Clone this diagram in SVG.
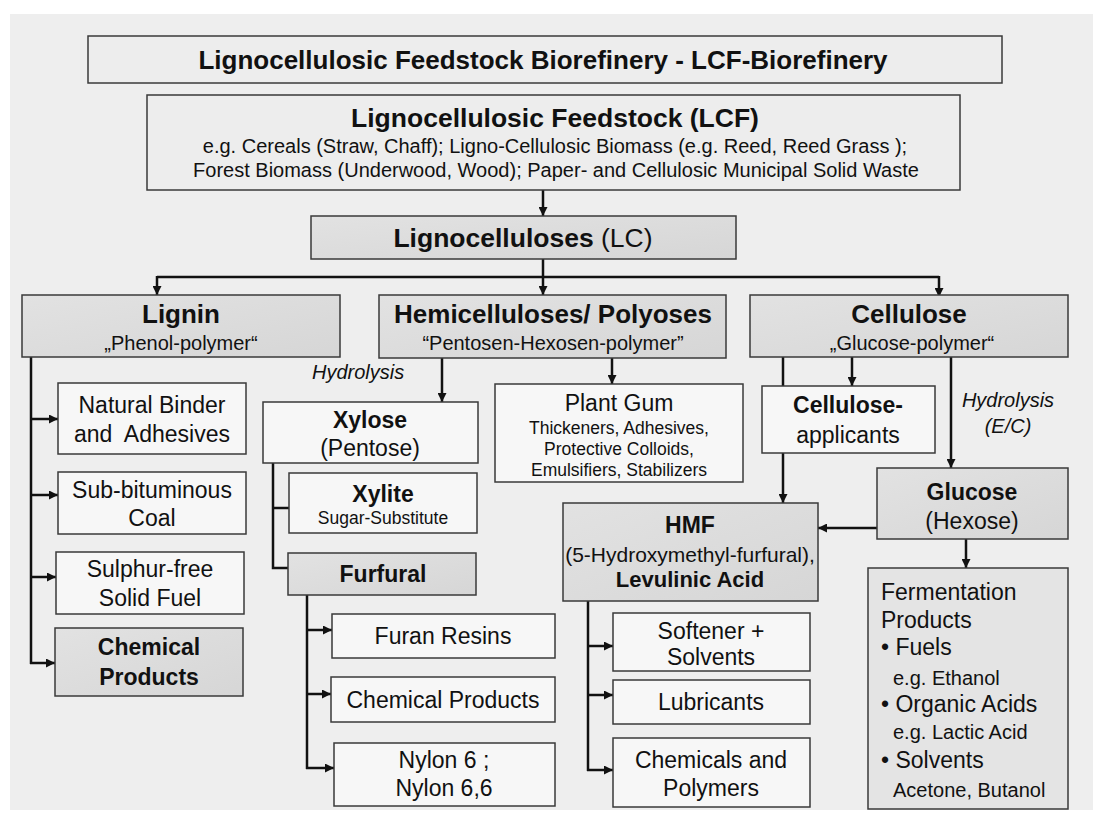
<svg xmlns="http://www.w3.org/2000/svg" width="1093" height="813" viewBox="0 0 1093 813">
  <defs>
    <marker id="arrow" markerUnits="userSpaceOnUse" markerWidth="9" markerHeight="9" refX="9" refY="4.5" orient="auto">
      <path d="M0,0 L9,4.5 L0,9 z" fill="#111"/>
    </marker>
    <linearGradient id="shade" x1="0" y1="0" x2="1" y2="1">
      <stop offset="0" stop-color="#e2e2e2"/>
      <stop offset="1" stop-color="#d6d6d6"/>
    </linearGradient>
    <style>
      text { font-family: "Liberation Sans", Arial, sans-serif; fill: #111; }
      .box { stroke: #3a3a3a; stroke-width: 1.5; }
      .plain { fill: #ededed; }
      .light { fill: #f7f7f7; }
      .gray { fill: url(#shade); }
      .ferm { fill: #e4e4e4; }
      .h1 { font-size: 26px; font-weight: bold; text-anchor: middle; }
      .sub { font-size: 20px; text-anchor: middle; }
      .item { font-size: 23px; text-anchor: middle; }
      .itemb { font-size: 23px; font-weight: bold; text-anchor: middle; }
      .small { font-size: 17.5px; text-anchor: middle; }
      .note { font-size: 20px; font-style: italic; }
      .left { text-anchor: start; }
      .eg { font-size: 20px; }
      .conn line, .conn polyline { stroke: #111; stroke-width: 2.5; fill: none; }
    </style>
  </defs>

  <!-- page background -->
  <rect x="0" y="0" width="1093" height="813" fill="#ffffff"/>
  <rect x="10" y="14" width="1083" height="796" fill="#eeeeee"/>

  <!-- connectors -->
  <g id="connectors" class="conn">
    <line x1="543" y1="190" x2="543" y2="216" marker-end="url(#arrow)"/>
    <line x1="543" y1="259" x2="543" y2="277"/>
    <line x1="157" y1="277" x2="939" y2="277"/>
    <line x1="157" y1="276" x2="157" y2="295" marker-end="url(#arrow)"/>
    <line x1="543" y1="276" x2="543" y2="295" marker-end="url(#arrow)"/>
    <line x1="939" y1="276" x2="939" y2="297" marker-end="url(#arrow)"/>

    <!-- lignin branch -->
    <line x1="31" y1="357" x2="31" y2="664"/>
    <line x1="30" y1="419" x2="58" y2="419" marker-end="url(#arrow)"/>
    <line x1="30" y1="495" x2="58" y2="495" marker-end="url(#arrow)"/>
    <line x1="30" y1="577" x2="56" y2="577" marker-end="url(#arrow)"/>
    <line x1="30" y1="663" x2="55" y2="663" marker-end="url(#arrow)"/>

    <!-- hemicellulose branch -->
    <line x1="442" y1="358" x2="442" y2="402" marker-end="url(#arrow)"/>
    <line x1="612" y1="358" x2="612" y2="384" marker-end="url(#arrow)"/>
    <polyline points="273,463 273,568 288,568"/>
    <line x1="273" y1="508" x2="289" y2="508"/>
    <line x1="307" y1="595" x2="307" y2="769"/>
    <line x1="306" y1="630" x2="332" y2="630" marker-end="url(#arrow)"/>
    <line x1="306" y1="694" x2="331" y2="694" marker-end="url(#arrow)"/>
    <line x1="306" y1="768" x2="334" y2="768" marker-end="url(#arrow)"/>

    <!-- cellulose branch -->
    <line x1="783" y1="357" x2="783" y2="386"/>
    <line x1="852" y1="357" x2="852" y2="386" marker-end="url(#arrow)"/>
    <line x1="783" y1="453" x2="783" y2="503" marker-end="url(#arrow)"/>
    <line x1="951" y1="357" x2="951" y2="468" marker-end="url(#arrow)"/>
    <line x1="877" y1="528" x2="818" y2="528" marker-end="url(#arrow)"/>
    <line x1="966" y1="539" x2="966" y2="568" marker-end="url(#arrow)"/>

    <!-- HMF branch -->
    <line x1="588" y1="601" x2="588" y2="771"/>
    <line x1="587" y1="646" x2="613" y2="646" marker-end="url(#arrow)"/>
    <line x1="587" y1="695" x2="613" y2="695" marker-end="url(#arrow)"/>
    <line x1="587" y1="770" x2="613" y2="770" marker-end="url(#arrow)"/>
  </g>

  <g id="title">
    <rect class="box plain" x="88" y="36" width="914" height="47"/>
    <text class="h1" x="543" y="69">Lignocellulosic Feedstock Biorefinery - LCF-Biorefinery</text>
  </g>

  <g id="feedstock">
    <rect class="box plain" x="147" y="95" width="813" height="95"/>
    <text class="h1" x="555" y="127" style="font-size:26.5px">Lignocellulosic Feedstock (LCF)</text>
    <text class="sub" x="555" y="153">e.g. Cereals (Straw, Chaff); Ligno-Cellulosic Biomass (e.g. Reed, Reed Grass );</text>
    <text class="sub" x="556" y="177">Forest Biomass (Underwood, Wood); Paper- and Cellulosic Municipal Solid Waste</text>
  </g>

  <g id="lignocelluloses">
    <rect class="box gray" x="311" y="216" width="425" height="43"/>
    <text class="h1" x="523" y="247" style="font-size:26.5px">Lignocelluloses<tspan font-weight="normal"> (LC)</tspan></text>
  </g>

  <g id="lignin">
    <rect class="box gray" x="22" y="295" width="318" height="62"/>
    <text class="h1" x="181" y="323">Lignin</text>
    <text class="sub" x="181" y="350">„Phenol-polymer“</text>
  </g>

  <g id="hemicelluloses">
    <rect class="box gray" x="379" y="295" width="347" height="63"/>
    <text class="h1" x="553" y="323">Hemicelluloses/ Polyoses</text>
    <text class="sub" x="553" y="350">“Pentosen-Hexosen-polymer”</text>
  </g>

  <g id="cellulose">
    <rect class="box gray" x="750" y="295" width="318" height="62"/>
    <text class="h1" x="909" y="323">Cellulose</text>
    <text class="sub" x="912" y="350">„Glucose-polymer“</text>
  </g>

  <g id="natural-binder">
    <rect class="box light" x="58" y="383" width="188" height="71"/>
    <text class="item" x="152" y="413">Natural Binder</text>
    <text class="item" x="152" y="442">and&#160; Adhesives</text>
  </g>

  <g id="coal">
    <rect class="box light" x="58" y="472" width="188" height="62"/>
    <text class="item" x="152" y="498">Sub-bituminous</text>
    <text class="item" x="152" y="526">Coal</text>
  </g>

  <g id="solid-fuel">
    <rect class="box light" x="56" y="552" width="188" height="62"/>
    <text class="item" x="150" y="577">Sulphur-free</text>
    <text class="item" x="150" y="606">Solid Fuel</text>
  </g>

  <g id="lignin-chemicals">
    <rect class="box gray" x="55" y="628" width="188" height="68"/>
    <text class="itemb" x="149" y="655">Chemical</text>
    <text class="itemb" x="149" y="685">Products</text>
  </g>

  <g id="hydrolysis-hemi">
    <text class="note" x="312" y="379">Hydrolysis</text>
  </g>

  <g id="xylose">
    <rect class="box light" x="263" y="402" width="215" height="61"/>
    <text class="itemb" x="370" y="428">Xylose</text>
    <text class="item" x="370" y="456">(Pentose)</text>
  </g>

  <g id="xylite">
    <rect class="box light" x="289" y="473" width="188" height="60"/>
    <text class="itemb" x="383" y="502">Xylite</text>
    <text class="small" x="383" y="524">Sugar-Substitute</text>
  </g>

  <g id="furfural">
    <rect class="box gray" x="288" y="553" width="188" height="42"/>
    <text class="itemb" x="383" y="582">Furfural</text>
  </g>

  <g id="furan-resins">
    <rect class="box light" x="332" y="614" width="223" height="44"/>
    <text class="item" x="443" y="644">Furan Resins</text>
  </g>

  <g id="furfural-chemicals">
    <rect class="box light" x="331" y="677" width="224" height="45"/>
    <text class="item" x="443" y="708">Chemical Products</text>
  </g>

  <g id="nylon">
    <rect class="box light" x="334" y="743" width="221" height="63"/>
    <text class="item" x="444" y="768">Nylon 6 ;</text>
    <text class="item" x="444" y="796">Nylon 6,6</text>
  </g>

  <g id="plant-gum">
    <rect class="box light" x="495" y="384" width="248" height="98"/>
    <text class="item" x="619" y="411">Plant Gum</text>
    <text class="small" x="619" y="434">Thickeners, Adhesives,</text>
    <text class="small" x="619" y="455">Protective Colloids,</text>
    <text class="small" x="619" y="476">Emulsifiers, Stabilizers</text>
  </g>

  <g id="cellulose-applicants">
    <rect class="box light" x="762" y="386" width="173" height="67"/>
    <text class="itemb" x="848" y="413">Cellulose-</text>
    <text class="item" x="848" y="443">applicants</text>
  </g>

  <g id="hydrolysis-cellulose">
    <text class="note" x="1008" y="407" text-anchor="middle">Hydrolysis</text>
    <text class="note" x="1008" y="433" text-anchor="middle">(E/C)</text>
  </g>

  <g id="glucose">
    <rect class="box gray" x="877" y="468" width="191" height="71"/>
    <text class="itemb" x="972" y="500">Glucose</text>
    <text class="item" x="972" y="529">(Hexose)</text>
  </g>

  <g id="hmf">
    <rect class="box gray" x="563" y="503" width="255" height="98"/>
    <text class="itemb" x="690" y="533">HMF</text>
    <text class="sub" x="690" y="562" style="font-size:21px">(5-Hydroxymethyl-furfural),</text>
    <text class="itemb" x="690" y="587" style="font-size:22px">Levulinic Acid</text>
  </g>

  <g id="softener">
    <rect class="box light" x="613" y="613" width="197" height="58"/>
    <text class="item" x="711" y="639">Softener +</text>
    <text class="item" x="711" y="665">Solvents</text>
  </g>

  <g id="lubricants">
    <rect class="box light" x="613" y="680" width="197" height="44"/>
    <text class="item" x="711" y="710">Lubricants</text>
  </g>

  <g id="chemicals-polymers">
    <rect class="box light" x="613" y="738" width="197" height="69"/>
    <text class="item" x="711" y="768">Chemicals and</text>
    <text class="item" x="711" y="796">Polymers</text>
  </g>

  <g id="fermentation">
    <rect class="box ferm" x="868" y="568" width="200" height="241"/>
    <text class="item left" x="881" y="600">Fermentation</text>
    <text class="item left" x="881" y="628">Products</text>
    <text class="item left" x="881" y="655">• Fuels</text>
    <text class="eg" x="893" y="685">e.g. Ethanol</text>
    <text class="item left" x="881" y="712">• Organic Acids</text>
    <text class="eg" x="893" y="739">e.g. Lactic Acid</text>
    <text class="item left" x="881" y="768">• Solvents</text>
    <text class="eg" x="893" y="797">Acetone, Butanol</text>
  </g>
</svg>
